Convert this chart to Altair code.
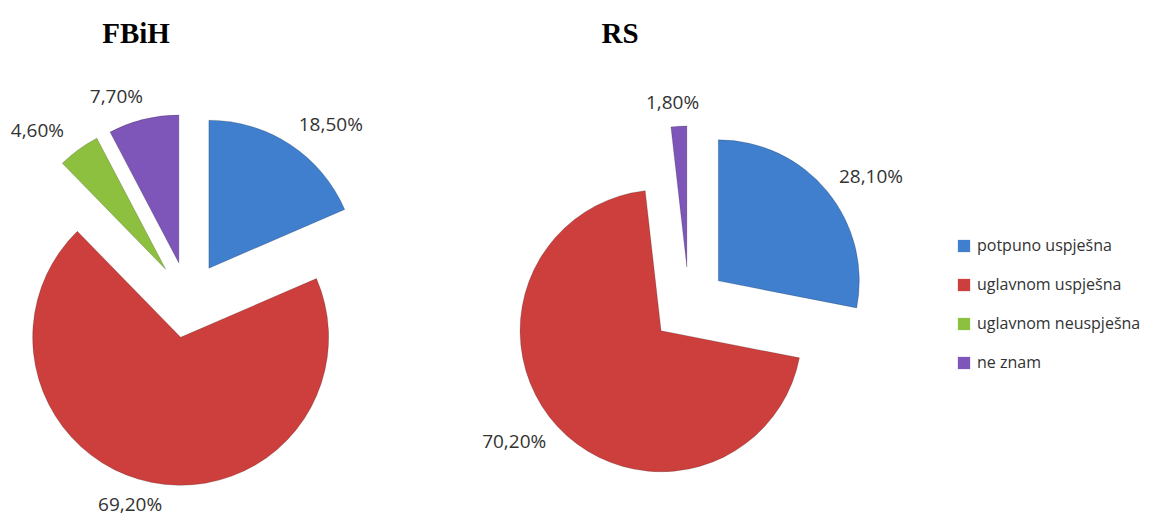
import math
import altair as alt
import pandas as pd

# ---- data ----
categories = ["potpuno uspješna", "uglavnom uspješna", "uglavnom neuspješna", "ne znam"]
colors = ["#3F7FCE", "#CC3F3D", "#8DC03E", "#7E55B8"]
fbih_values = [18.5, 69.2, 4.6, 7.7]
rs_values = [28.1, 70.2, 0.0, 1.8]
regions = ["FBiH", "RS"]

rows = []
for region, vals in zip(regions, [fbih_values, rs_values]):
    for i, (c, v) in enumerate(zip(categories, vals)):
        rows.append({"region": region, "category": c, "value": v, "order": i})
df = pd.DataFrame(rows)

W, H = 1139, 508
TWO_PI = 2 * math.pi
xs = alt.Scale(domain=[8, 8 + W], nice=False, zero=False)
ys = alt.Scale(domain=[8 + H, 8], nice=False, zero=False)
ts = alt.Scale(domain=[0, TWO_PI], range=[0, TWO_PI], nice=False, zero=False)
cs = alt.Scale(domain=categories, range=colors)


def pie(region, cx, cy, r, explode, gap=14, half_w=33):
    base = alt.Chart(df).transform_filter(
        alt.datum.region == region
    ).transform_window(
        cum="sum(value)", sort=[alt.SortField("order")], frame=[None, 0]
    ).transform_joinaggregate(
        total="sum(value)"
    ).transform_calculate(
        start=f"(datum.cum - datum.value) / datum.total * {TWO_PI}",
        end=f"datum.cum / datum.total * {TWO_PI}",
    ).transform_calculate(
        mid="(datum.start + datum.end) / 2"
    ).transform_calculate(
        sx=f"{cx} + {explode} * sin(datum.mid)",
        sy=f"{cy} - {explode} * cos(datum.mid)",
    ).transform_calculate(
        px=f"datum.sx + {r + gap} * sin(datum.mid)",
        py=f"datum.sy - {r + gap} * cos(datum.mid)",
        label="replace(format(datum.value, '.2f'), '.', ',') + '%'",
    ).transform_calculate(
        lx=f"datum.px + {half_w} * clamp(3 * sin(datum.mid), -1, 1)",
        ly="datum.py - 9 * cos(datum.mid)",
    ).transform_filter(alt.datum.value > 0)
    arcs = base.mark_arc(
        radius=r, stroke="#000000", strokeOpacity=0.18, strokeWidth=1
    ).encode(
        x=alt.X("sx:Q", scale=xs, axis=None),
        y=alt.Y("sy:Q", scale=ys, axis=None),
        theta=alt.Theta("start:Q", scale=ts, stack=None),
        theta2=alt.Theta2("end:Q"),
        color=alt.Color(
            "category:N",
            scale=cs,
            sort=categories,
            legend=alt.Legend(
                title=None,
                orient="none",
                legendX=948,
                legendY=230,
                symbolType="square",
                symbolSize=150,
                symbolStrokeWidth=0,
                labelFont="Open Sans",
                labelFontSize=16,
                labelColor="#333333",
                labelOffset=5,
                labelLimit=400,
                rowPadding=23,
                padding=0,
            ),
        ),
        order=alt.Order("order:Q"),
    )
    labels = base.mark_text(
        font="Open Sans", fontSize=19, color="#333333", align="center", baseline="middle"
    ).encode(
        x=alt.X("lx:Q", scale=xs, axis=None),
        y=alt.Y("ly:Q", scale=ys, axis=None),
        text="label:N",
    )
    return [arcs, labels]


titles_df = pd.DataFrame({"region": regions})
title_fbih = alt.Chart(titles_df).transform_filter(alt.datum.region == "FBiH").mark_text(
    font="Liberation Serif", fontSize=29, fontWeight="bold", color="#000000",
    align="center", baseline="alphabetic",
).encode(x=alt.value(128), y=alt.value(35), text="region:N")
title_rs = alt.Chart(titles_df).transform_filter(alt.datum.region == "RS").mark_text(
    font="Liberation Serif", fontSize=29, fontWeight="bold", color="#000000",
    align="center", baseline="alphabetic",
).encode(x=alt.value(612), y=alt.value(35), text="region:N")

layers = pie("FBiH", 188, 300, 148, 38) + pie("RS", 689, 305, 141, 38) + [title_fbih, title_rs]

chart = alt.layer(*layers).properties(
    width=W, height=H, padding=0,
    autosize=alt.AutoSizeParams(type="none"),
    background="#ffffff",
).configure_view(stroke=None)

chart.save("out.html", embed_options={"renderer": "svg", "actions": False})
